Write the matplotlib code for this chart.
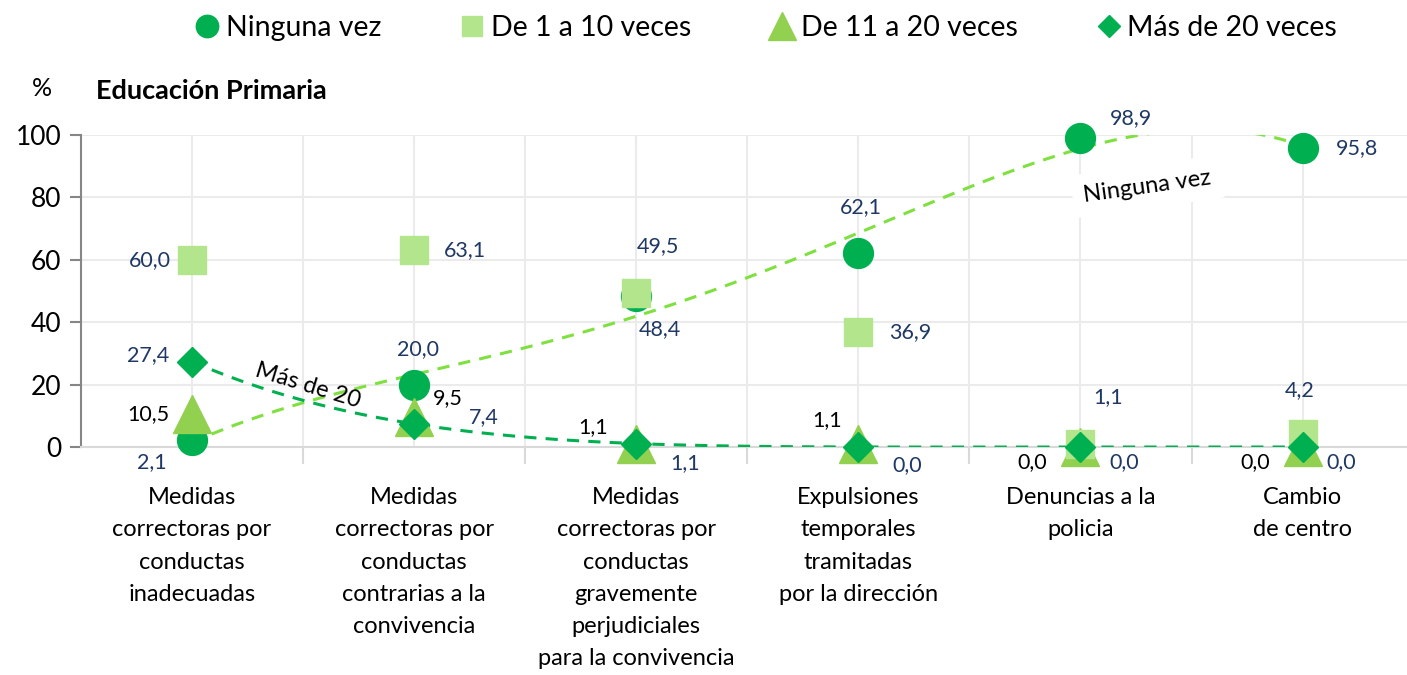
import numpy as np
import matplotlib
matplotlib.use("Agg")
import matplotlib.pyplot as plt

plt.rcParams['font.family'] = ['Lato', 'DejaVu Sans']

categorias = [
    "Medidas\ncorrectoras por\nconductas\ninadecuadas",
    "Medidas\ncorrectoras por\nconductas\ncontrarias a la\nconvivencia",
    "Medidas\ncorrectoras por\nconductas\ngravemente\nperjudiciales\npara la convivencia",
    "Expulsiones\ntemporales\ntramitadas\npor la dirección",
    "Denuncias a la\npolicia",
    "Cambio\nde centro",
]
series = ["Ninguna vez", "De 1 a 10 veces", "De 11 a 20 veces", "Más de 20 veces"]
ninguna = [2.1, 20.0, 48.4, 62.1, 98.9, 95.8]
de1a10 = [60.0, 63.1, 49.5, 36.9, 1.1, 4.2]
de11a20 = [10.5, 9.5, 1.1, 1.1, 0.0, 0.0]
mas20 = [27.4, 7.4, 1.1, 0.0, 0.0, 0.0]

x = np.arange(1, len(categorias) + 1)

verde = "#00B050"
verde_claro = "#B3E68C"
verde_medio = "#92D050"
verde_tend = "#7FE040"
azul = "#1F3864"

# label offsets in pixels (dx, dy) for each series
off_ninguna = [(-40, -22), (4, 36), (24, -33), (2, 46), (51, 20), (54, 0)]
off_1a10 = [(-42, 0), (51, 0), (22, 46), (52, 0), (28, 46), (-3, 44)]
off_11a20 = [(-44, 0), (34, 19), (-43, 16), (-31, 23), (-48, -15), (-47, -15)]
off_mas20 = [(-44, 6), (70, 7), (49, -20), (49, -18), (44, -15), (39, -15)]

fig = plt.figure(figsize=(14.07, 6.75), dpi=100)
ax = fig.add_axes([81 / 1407, 1 - 447 / 675, 1 - 81 / 1407, 312 / 675])

# trend lines (polynomial fits)
xs = np.linspace(1, 6, 300)
p_ning = np.polyfit(x, ninguna, 4)
ax.plot(xs, np.polyval(p_ning, xs), ls=(0, (4, 3)), color=verde_tend, lw=2.2, zorder=2.6)
p_mas = np.polyfit(x, mas20, 5)
ax.plot(xs, np.polyval(p_mas, xs), ls=(0, (4, 3)), color=verde, lw=2.2, zorder=2.6)

ax.plot(x, ninguna, 'o', color=verde, ms=21.5, label=series[0], zorder=3, clip_on=False)
ax.plot(x, de1a10, 's', color=verde_claro, ms=20, label=series[1], zorder=4, clip_on=False)
ax.plot(x, de11a20, '^', color=verde_medio, ms=27, label=series[2], zorder=3, clip_on=False)
ax.plot(x, mas20, 'D', color=verde, ms=15, label=series[3], zorder=5, clip_on=False)

def fmt(v):
    return f"{v:.1f}".replace(".", ",")

for vals, offs, col in [(ninguna, off_ninguna, azul), (de1a10, off_1a10, azul),
                        (de11a20, off_11a20, "black"), (mas20, off_mas20, azul)]:
    for xi, v, (dx, dy) in zip(x, vals, offs):
        ax.annotate(fmt(v), (xi, v), xytext=(dx, dy), textcoords='offset pixels',
                    ha='center', va='center', fontsize=15.5, color=col, zorder=6,
                    annotation_clip=False)

ax.text(1.52, 19.8, "Más de 20", rotation=-17, fontsize=17, ha='center', va='center',
        zorder=6)
ax.text(5.3, 83.5, "Ninguna vez", rotation=8, fontsize=17, ha='center', va='center',
        zorder=6, bbox=dict(facecolor='white', edgecolor='none', pad=8))

ax.set_xlim(0.5, 6.47)
ax.set_ylim(0, 100)
ax.set_yticks([0, 20, 40, 60, 80, 100])
ax.tick_params(axis='y', labelsize=19, length=8, color='#868686', width=1.5, pad=6)
ax.set_xticks(x)
ax.set_xticklabels(categorias, fontsize=17, linespacing=1.66, va='top')
ax.tick_params(axis='x', length=0, pad=29)
ax.set_xticks(np.arange(1.5, 6.5, 1), minor=True)
ax.tick_params(axis='x', which='minor', length=12, color='#D9D9D9', width=1.5)

ax.grid(True, which='major', color='#EBEBEB', lw=1.5, zorder=0)
ax.grid(True, which='minor', axis='x', color='#EBEBEB', lw=1.5, zorder=0)
ax.set_axisbelow(True)
for s in ['top', 'right']:
    ax.spines[s].set_visible(False)
ax.spines['left'].set_color('#868686')
ax.spines['left'].set_linewidth(1.5)
ax.spines['bottom'].set_color('#D9D9D9')
ax.spines['bottom'].set_linewidth(1.5)

fig.text(42 / 1407, 1 - 89 / 675, "%", fontsize=18, ha='center', va='center')
fig.text(96 / 1407, 1 - 91 / 675, "Educación Primaria", fontsize=19.5, fontweight='bold',
         ha='left', va='center')

fig.legend(loc='center', bbox_to_anchor=(765 / 1407, 1 - 28 / 675), ncol=4,
           frameon=False, fontsize=20.5, handletextpad=0.15, columnspacing=2.7,
           markerscale=0.75, handlelength=1.0)

fig.savefig("out.png", dpi=100)
